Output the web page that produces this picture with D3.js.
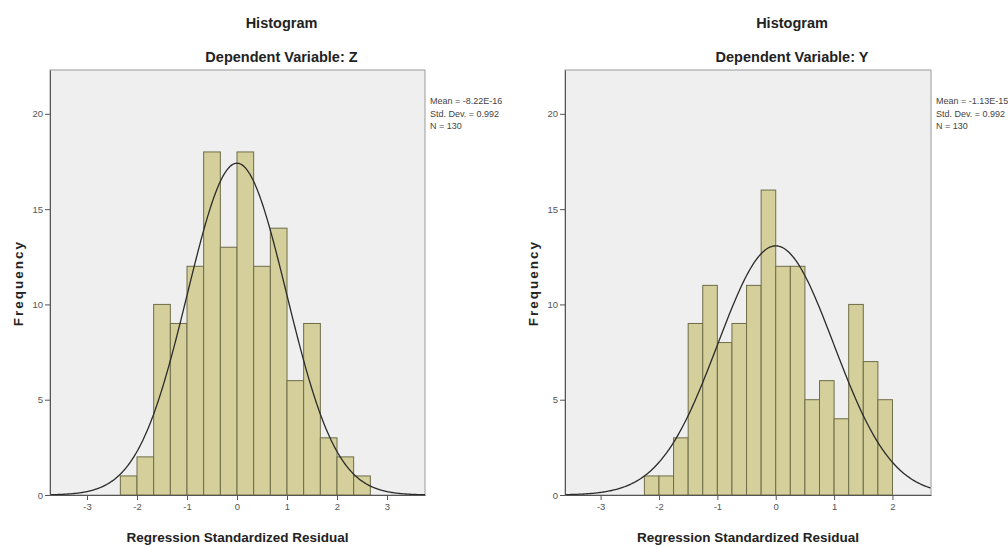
<!DOCTYPE html>
<html>
<head>
<meta charset="utf-8">
<script src="https://cdn.jsdelivr.net/npm/d3@7"></script>
<style>
  body { margin: 0; background: #fff; }
  svg { display: block; font-family: "Liberation Sans", Arial, sans-serif; }
</style>
</head>
<body>
<svg id="chart" width="1008" height="547"></svg>
<script>
// left panel : dependent variable Z
const zEdges = [-2.333, -2, -1.667, -1.333, -1, -0.667, -0.333, 0, 0.333, 0.667, 1, 1.333, 1.667, 2, 2.333, 2.667];
const zCounts = [1, 2, 10, 9, 12, 18, 13, 18, 12, 14, 6, 9, 3, 2, 1];
const zTicksX = [-3, -2, -1, 0, 1, 2, 3];
const zStats = ["Mean = -8.22E-16", "Std. Dev. = 0.992", "N = 130"];

// right panel : dependent variable Y
const yEdges = [-2.25, -2, -1.75, -1.5, -1.25, -1, -0.75, -0.5, -0.25, 0, 0.25, 0.5, 0.75, 1, 1.25, 1.5, 1.75, 2];
const yCounts = [1, 1, 3, 9, 11, 8, 9, 11, 16, 12, 12, 5, 6, 4, 10, 7, 5];
const yTicksX = [-3, -2, -1, 0, 1, 2];
const yStats = ["Mean = -1.13E-15", "Std. Dev. = 0.992", "N = 130"];

const freqTicks = [0, 5, 10, 15, 20];

const svg = d3.select('#chart');

function drawPanel(opt) {
    const g = svg.append('g');
    const x = d3.scaleLinear().domain(opt.xDomain).range([opt.left, opt.right]);
    const y = d3.scaleLinear().domain([0, 22.3]).range([495, 70]);

    // plot background + frame
    g.append('rect')
        .attr('x', opt.left).attr('y', y(22.3))
        .attr('width', opt.right - opt.left).attr('height', y(0) - y(22.3))
        .attr('fill', '#efefef')
        .attr('stroke', '#9a9a9a');

    // bars
    g.selectAll('rect.bar')
        .data(opt.counts)
        .enter()
        .append('rect')
        .attr('class', 'bar')
        .attr('x', (d, i) => x(opt.edges[i]))
        .attr('y', d => y(d))
        .attr('width', (d, i) => x(opt.edges[i + 1]) - x(opt.edges[i]))
        .attr('height', d => y(0) - y(d))
        .attr('fill', '#d4cf9b')
        .attr('stroke', '#6f6d48')
        .attr('stroke-width', 1);

    // normal curve (fitted from mean / sd / N)
    const n = d3.sum(opt.counts);
    const bw = opt.edges[1] - opt.edges[0];
    const sd = 0.992;
    const pts = d3.range(opt.xDomain[0], opt.xDomain[1] + 0.001, 0.02)
        .map(v => [v, n * bw / (sd * Math.sqrt(2 * Math.PI)) * Math.exp(-0.5 * (v / sd) * (v / sd))]);
    g.append('path')
        .datum(pts)
        .attr('fill', 'none')
        .attr('stroke', '#2b2b2b')
        .attr('stroke-width', 1.3)
        .attr('d', d3.line().x(d => x(d[0])).y(d => y(d[1])));

    // axes
    const yAxis = d3.axisLeft(y).tickValues(freqTicks).tickSize(5).tickSizeOuter(0).tickPadding(2);
    const yg = g.append('g').attr('transform', `translate(${opt.left},0)`).call(yAxis);
    const xAxis = d3.axisBottom(x).tickValues(opt.ticksX).tickSize(5).tickSizeOuter(0).tickPadding(3)
        .tickFormat(d => String(d));
    const xg = g.append('g').attr('transform', `translate(0,${y(0)})`).call(xAxis);
    [yg, xg].forEach(a => {
        a.select('.domain').attr('stroke', '#555');
        a.selectAll('.tick line').attr('stroke', '#555');
        a.selectAll('.tick text').attr('fill', '#555').attr('font-size', 9.5).attr('font-family', '"Liberation Sans", Arial, sans-serif');
    });

    // titles
    const cx = (opt.left + opt.right) / 2;
    g.append('text').attr('x', cx + 44).attr('y', 28)
        .attr('text-anchor', 'middle').attr('font-size', 14.5).attr('font-weight', 'bold').attr('fill', '#222')
        .text('Histogram');
    g.append('text').attr('x', cx + 44).attr('y', 62)
        .attr('text-anchor', 'middle').attr('font-size', 14.5).attr('font-weight', 'bold').attr('fill', '#222')
        .text(opt.subtitle);
    g.append('text').attr('x', cx).attr('y', 542)
        .attr('text-anchor', 'middle').attr('font-size', 13.5).attr('font-weight', 'bold').attr('fill', '#222')
        .text('Regression Standardized Residual');
    g.append('text')
        .attr('transform', `translate(${opt.left - 27},283) rotate(-90)`)
        .attr('text-anchor', 'middle').attr('font-size', 13.5).attr('font-weight', 'bold')
        .attr('letter-spacing', 2).attr('fill', '#222')
        .text('Frequency');

    // stats box
    g.selectAll('text.stat')
        .data(opt.stats)
        .enter()
        .append('text')
        .attr('class', 'stat')
        .attr('x', opt.right + 5)
        .attr('y', (d, i) => 104 + i * 12.5)
        .attr('font-size', 9).attr('fill', '#444')
        .text(d => d);
}

drawPanel({ left: 50, right: 425, xDomain: [-3.74, 3.76], edges: zEdges, counts: zCounts,
    ticksX: zTicksX, stats: zStats, subtitle: 'Dependent Variable: Z' });
drawPanel({ left: 565, right: 931, xDomain: [-3.61, 2.66], edges: yEdges, counts: yCounts,
    ticksX: yTicksX, stats: yStats, subtitle: 'Dependent Variable: Y' });
</script>
</body>
</html>
